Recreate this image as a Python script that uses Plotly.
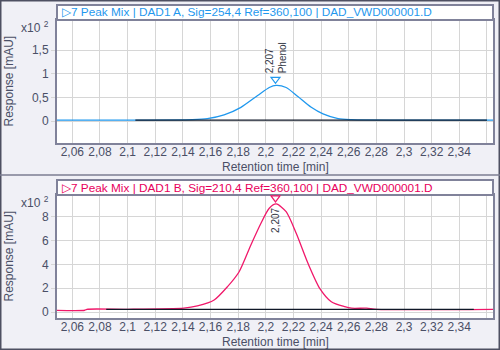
import plotly.graph_objects as go

# Signal DAD1 A (254 nm), response in units of 10^2 mAU
time_a = [2.045, 2.100, 2.1468, 2.1577, 2.1698, 2.1820, 2.1941, 2.2025, 2.2074,
          2.2147, 2.2232, 2.2329, 2.2414, 2.2523, 2.2620, 2.300, 2.370]
resp_a = [0.02, 0.02, 0.03, 0.05, 0.13, 0.29, 0.54, 0.71, 0.755,
          0.71, 0.52, 0.29, 0.15, 0.05, 0.03, 0.02, 0.02]

# Signal DAD1 B (210 nm)
time_b = [2.045, 2.0690, 2.0705, 2.1000, 2.1407, 2.1505, 2.1626, 2.1723, 2.1807,
          2.1892, 2.1965, 2.2025, 2.2076, 2.2147, 2.2220, 2.2305, 2.2390,
          2.2474, 2.2571, 2.2620, 2.2730, 2.2800, 2.370]
resp_b = [0.16, 0.16, 0.24, 0.24, 0.33, 0.52, 1.02, 2.14, 3.39,
          5.63, 7.45, 8.71, 9.07, 8.42, 6.61, 4.10, 2.00,
          0.88, 0.46, 0.33, 0.33, 0.24, 0.24]

# Integration baselines (start, end)
base_a_t = [2.1056, 2.3600]
base_a_v = [0.02, 0.02]
base_b_t = [2.0845, 2.3505]
base_b_v = [0.24, 0.24]

# Peak annotations
peak_rt = 2.207
peak_a_val = 0.755
peak_b_val = 9.07
peak_rt_label = "2,207"
peak_name = "Phenol"

# Axis ticks
x_ticks = [2.06, 2.08, 2.10, 2.12, 2.14, 2.16, 2.18, 2.20, 2.22, 2.24, 2.26,
           2.28, 2.30, 2.32, 2.34, 2.36]
x_labels = ["2,06", "2,08", "2,1", "2,12", "2,14", "2,16", "2,18", "2,2", "2,22",
            "2,24", "2,26", "2,28", "2,3", "2,32", "2,34", ""]
ya_ticks = [0, 0.5, 1, 1.5]
ya_labels = ["0", "0,5", "1", "1,5"]
yb_ticks = [0, 2, 4, 6, 8]
yb_labels = ["0", "2", "4", "6", "8"]

title_a = "\u25b77 Peak Mix | DAD1 A, Sig=254,4 Ref=360,100 | DAD_VWD000001.D"
title_b = "\u25b77 Peak Mix | DAD1 B, Sig=210,4 Ref=360,100 | DAD_VWD000001.D"

BLUE = "#1f98ee"
PINK = "#f0186a"
PINK_TXT = "#e8005c"
TXT = "#4a4f66"
FRAME = "#80829a"
GRID = "#d6d6d6"
FONT = "Liberation Sans"

W, H = 500, 350


def px_x(p):
    return p / W


def px_y(p):
    return 1 - p / H


x_dom = [px_x(57), px_x(493)]
x_range = [2.0489, 2.3644]

fig = go.Figure()

fig.add_trace(go.Scatter(x=time_a, y=resp_a, mode="lines", xaxis="x", yaxis="y",
                         line=dict(color=BLUE, width=1.3, shape="spline", smoothing=0.7),
                         hoverinfo="skip"))
fig.add_trace(go.Scatter(x=base_a_t, y=base_a_v, mode="lines", xaxis="x", yaxis="y",
                         line=dict(color="#101828", width=1.3), hoverinfo="skip"))
fig.add_trace(go.Scatter(x=time_b, y=resp_b, mode="lines", xaxis="x2", yaxis="y2",
                         line=dict(color=PINK, width=1.3, shape="spline", smoothing=0.7),
                         hoverinfo="skip"))
fig.add_trace(go.Scatter(x=base_b_t, y=base_b_v, mode="lines", xaxis="x2", yaxis="y2",
                         line=dict(color="#101828", width=1.3), hoverinfo="skip"))

axis_common = dict(showgrid=True, gridcolor=GRID, gridwidth=1, zeroline=False,
                   showline=True, linecolor=FRAME, linewidth=2, mirror=True,
                   tickcolor=GRID,
                   tickfont=dict(family=FONT, size=12, color=TXT), fixedrange=True)
x_extra = dict(ticks="", ticklabelstandoff=-3)
y_extra = dict(ticks="outside", ticklen=4)

fig.update_layout(
    width=W, height=H, margin=dict(l=0, r=0, t=0, b=0),
    paper_bgcolor="#f0f0f6", plot_bgcolor="white", showlegend=False,
    font=dict(family=FONT, color=TXT),
    xaxis=dict(domain=x_dom, range=x_range, anchor="y", tickmode="array",
               tickvals=x_ticks, ticktext=x_labels, **axis_common, **x_extra),
    yaxis=dict(domain=[px_y(143), px_y(20)], range=[-0.466, 2.14], anchor="x",
               tickmode="array", tickvals=ya_ticks, ticktext=ya_labels,
               **axis_common, **y_extra),
    xaxis2=dict(domain=x_dom, range=x_range, anchor="y2", tickmode="array",
                tickvals=x_ticks, ticktext=x_labels, **axis_common, **x_extra),
    yaxis2=dict(domain=[px_y(318), px_y(195)], range=[-0.49, 9.82], anchor="x2",
                tickmode="array", tickvals=yb_ticks, ticktext=yb_labels,
                **axis_common, **y_extra),
)

shapes = []
annotations = []

# outer frame and panel separator
shapes.append(dict(type="rect", xref="paper", yref="paper", x0=0, x1=1, y0=0, y1=1,
                   line=dict(color="#4e5062", width=3), fillcolor="rgba(0,0,0,0)",
                   layer="above"))
shapes.append(dict(type="line", xref="paper", yref="paper", x0=0, x1=1,
                   y0=px_y(175), y1=px_y(175), line=dict(color="#7c7e92", width=1.5)))

for off, title, tcol in [(0, title_a, BLUE), (175, title_b, PINK_TXT)]:
    # title box above each plot
    shapes.append(dict(type="rect", xref="paper", yref="paper",
                       x0=px_x(57), x1=px_x(493), y0=px_y(20 + off), y1=px_y(5 + off),
                       fillcolor="white", line=dict(color=FRAME, width=2)))
    annotations.append(dict(text=title, xref="paper", yref="paper",
                            x=px_x(60), y=px_y(12.5 + off), xanchor="left", yanchor="middle",
                            showarrow=False, font=dict(family=FONT, size=11.8, color=tcol)))
    annotations.append(dict(text="Response [mAU]", xref="paper", yref="paper",
                            x=px_x(8), y=px_y(81.5 + off), textangle=-90,
                            xanchor="center", yanchor="middle", showarrow=False,
                            font=dict(family=FONT, size=12, color=TXT)))
    annotations.append(dict(text="Retention time [min]", xref="paper", yref="paper",
                            x=px_x(275), y=px_y(166.5 + off), xanchor="center",
                            yanchor="middle", showarrow=False,
                            font=dict(family=FONT, size=12, color=TXT)))
    annotations.append(dict(text="x10 <sup>2</sup>", xref="paper", yref="paper",
                            x=px_x(51), y=px_y(27 + off), xanchor="right",
                            yanchor="middle", showarrow=False,
                            font=dict(family=FONT, size=12, color=TXT)))

# peak markers (open downward triangles just above each apex)
tri = "M -4.5,8 L 4.5,8 L 0,2 Z"
shapes.append(dict(type="path", xref="x", yref="y", xsizemode="pixel", ysizemode="pixel",
                   xanchor=peak_rt, yanchor=peak_a_val, path=tri,
                   line=dict(color=BLUE, width=1.2), fillcolor="white"))
shapes.append(dict(type="path", xref="x2", yref="y2", xsizemode="pixel", ysizemode="pixel",
                   xanchor=peak_rt, yanchor=peak_b_val, path=tri,
                   line=dict(color=PINK, width=1.2), fillcolor="white"))

annotations.append(dict(text=peak_rt_label + "<br>" + peak_name, xref="x", yref="y",
                        x=peak_rt, y=peak_a_val, textangle=-90, align="left",
                        xanchor="center", yanchor="bottom", yshift=11, borderpad=0,
                        showarrow=False, font=dict(family=FONT, size=10, color="#333845")))
annotations.append(dict(text=peak_rt_label, xref="x2", yref="y2",
                        x=peak_rt, y=peak_b_val, textangle=-90,
                        xanchor="center", yanchor="top", yshift=-3, borderpad=0,
                        showarrow=False, font=dict(family=FONT, size=10, color="#333845")))

fig.update_layout(shapes=shapes, annotations=annotations)

fig.write_html("out.html")
